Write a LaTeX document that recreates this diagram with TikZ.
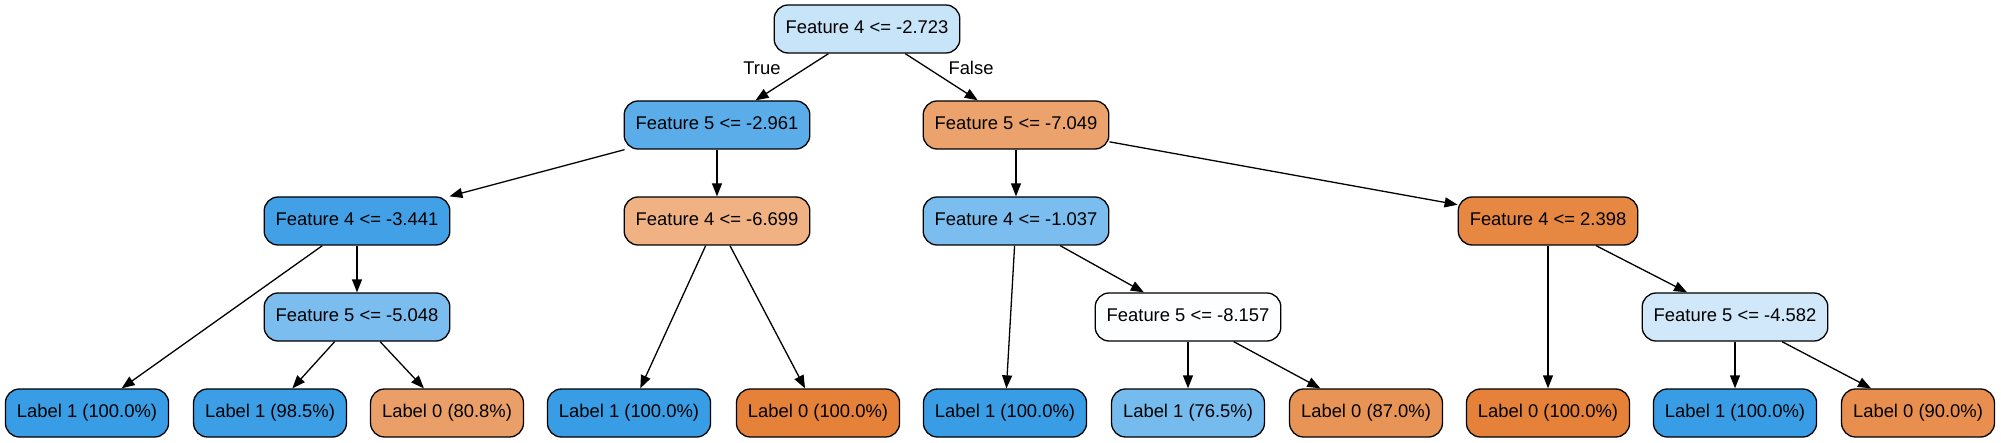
\documentclass[tikz,border=0pt]{standalone}
\usepackage{fontspec}
\setmainfont{Liberation Sans}
\usetikzlibrary{arrows.meta}
\definecolor{cRoot}{RGB}{200,228,248}
\definecolor{cA}{RGB}{90,173,233}
\definecolor{cB}{RGB}{236,162,108}
\definecolor{cC}{RGB}{66,161,230}
\definecolor{cD}{RGB}{240,177,131}
\definecolor{cE}{RGB}{122,189,238}
\definecolor{cF}{RGB}{230,135,66}
\definecolor{cG}{RGB}{123,189,238}
\definecolor{cH}{RGB}{252,254,255}
\definecolor{cI}{RGB}{208,232,249}
\definecolor{blueFull}{RGB}{57,157,229}
\definecolor{orangeFull}{RGB}{229,129,57}
\definecolor{cL985}{RGB}{60,158,229}
\definecolor{cL808}{RGB}{235,159,104}
\definecolor{cL765}{RGB}{118,187,237}
\definecolor{cL870}{RGB}{233,148,87}
\definecolor{cL900}{RGB}{232,143,79}
\begin{document}
\begin{tikzpicture}[x=0.5pt,y=-0.5pt,
  tnode/.style={draw=black, line width=0.65pt, rounded corners=7pt,
    minimum height=24pt, inner xsep=5.75pt, inner ysep=0pt,
    font=\fontsize{9.2}{11}\selectfont, text height=6.6pt, text depth=1.9pt},
  edge/.style={-{Triangle[length=6.5pt,width=5pt]}, line width=0.65pt},
  elabel/.style={inner sep=0pt, font=\fontsize{9.2}{11}\selectfont}]
\useasboundingbox (0,0) rectangle (2001,443);
% row 0
\node[tnode, fill=cRoot] (r) at (867,29) {Feature 4 <= -2.723};
% row 1
\node[tnode, fill=cA] (a) at (717,125) {Feature 5 <= -2.961};
\node[tnode, fill=cB] (b) at (1016,125) {Feature 5 <= -7.049};
% row 2
\node[tnode, fill=cC] (c) at (357,221) {Feature 4 <= -3.441};
\node[tnode, fill=cD] (d) at (717,221) {Feature 4 <= -6.699};
\node[tnode, fill=cE] (e) at (1016,221) {Feature 4 <= -1.037};
\node[tnode, fill=cF] (f) at (1548,221) {Feature 4 <= 2.398};
% row 3
\node[tnode, fill=cG] (g) at (357,317) {Feature 5 <= -5.048};
\node[tnode, fill=cH] (h) at (1188,317) {Feature 5 <= -8.157};
\node[tnode, fill=cI] (i) at (1735,317) {Feature 5 <= -4.582};
% row 4
\node[tnode, fill=blueFull] (l1) at (87,413) {Label 1 (100.0\%)};
\node[tnode, fill=cL985] (l2) at (270,413) {Label 1 (98.5\%)};
\node[tnode, fill=cL808] (l3) at (447,413) {Label 0 (80.8\%)};
\node[tnode, fill=blueFull] (l4) at (629,413) {Label 1 (100.0\%)};
\node[tnode, fill=orangeFull] (l5) at (818,413) {Label 0 (100.0\%)};
\node[tnode, fill=blueFull] (l6) at (1005,413) {Label 1 (100.0\%)};
\node[tnode, fill=cL765] (l7) at (1188,413) {Label 1 (76.5\%)};
\node[tnode, fill=cL870] (l8) at (1366,413) {Label 0 (87.0\%)};
\node[tnode, fill=orangeFull] (l9) at (1548,413) {Label 0 (100.0\%)};
\node[tnode, fill=blueFull] (l10) at (1735,413) {Label 1 (100.0\%)};
\node[tnode, fill=cL900] (l11) at (1918,413) {Label 0 (90.0\%)};
% edge labels
\node[elabel] (tl) at (762,68) {True};
\node[elabel] (fl) at (971,68) {False};
% edges
\draw[edge] (r) -- (a);
\draw[edge] (r) -- (b);
\draw[edge] (a) -- (c);
\draw[edge] (a) -- (d);
\draw[edge] (b) -- (e);
\draw[edge] (b) -- (f);
\draw[edge] (c) -- (l1);
\draw[edge] (c) -- (g);
\draw[edge] (g) -- (l2);
\draw[edge] (g) -- (l3);
\draw[edge] (d) -- (l4);
\draw[edge] (d) -- (l5);
\draw[edge] (e) -- (l6);
\draw[edge] (e) -- (h);
\draw[edge] (h) -- (l7);
\draw[edge] (h) -- (l8);
\draw[edge] (f) -- (l9);
\draw[edge] (f) -- (i);
\draw[edge] (i) -- (l10);
\draw[edge] (i) -- (l11);
\end{tikzpicture}
\end{document}
